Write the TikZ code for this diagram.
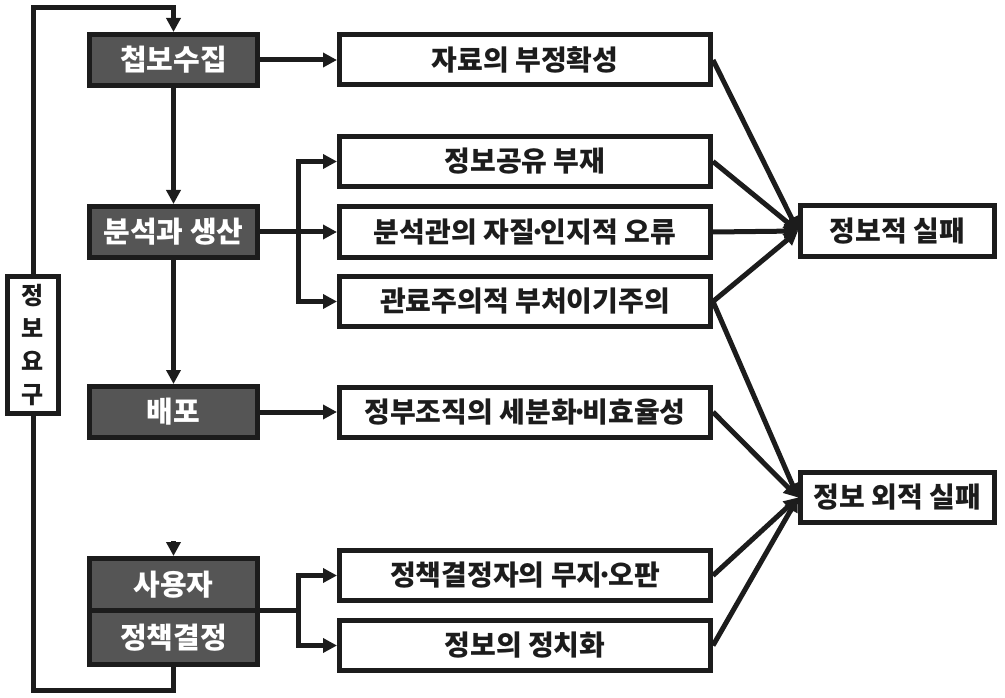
\documentclass[tikz,border=0pt]{standalone}
\usepackage{fontspec}
\newfontfamily\kor{Noto Sans CJK KR}
\usetikzlibrary{arrows.meta}
\definecolor{stagegray}{RGB}{85,85,85}
\definecolor{ink}{RGB}{28,28,28}
\newcommand{\mdot}{\kern-.2em·\kern-.2em}
\tikzstyle{stage}=[rectangle, draw=ink, fill=stagegray, line width=5pt, minimum width=168pt, minimum height=51pt, text=white, font=\kor\bfseries\fontsize{29}{32}\selectfont]
\tikzstyle{cause}=[rectangle, draw=ink, fill=white, line width=5pt, minimum width=371pt, minimum height=50pt, text=ink, font=\kor\bfseries\fontsize{28}{31}\selectfont]
\tikzstyle{failure}=[rectangle, draw=ink, fill=white, line width=5pt, minimum width=194pt, minimum height=50pt, text=ink, font=\kor\bfseries\fontsize{28}{31}\selectfont]
\tikzstyle{need}=[rectangle, draw=ink, fill=white, line width=5pt, minimum width=51pt, minimum height=137pt, inner sep=0pt, align=center, text=ink, font=\kor\bfseries\fontsize{24}{33}\selectfont]
\tikzstyle{line}=[draw=ink, line width=5pt]
\tikzstyle{arrow}=[draw=ink, line width=5pt, -{Triangle[length=14pt,width=14pt]}]

\begin{document}
\begin{tikzpicture}[x=1pt, y=-1pt]
		   \useasboundingbox (0, 0) rectangle (1005, 698);
		   \begin{scope}
			   \node (collect) at (173.5, 60) [stage] {첩보수집};
			   \node (analysis) at (173.5, 232) [stage] {분석과 생산};
			   \node (dissem) at (173.5, 412) [stage] {배포};
			   \node (user) at (173.5, 584.25) [stage, minimum height=51.5pt] {사용자};
			   \node (policy) at (173.5, 637.25) [stage, minimum height=54.5pt] {정책결정};

			   \node (req) at (33, 345) [need] {정\\보\\요\\구};

			   \node (m1) at (525, 60) [cause] {자료의 부정확성};
			   \node (m2) at (525, 161.5) [cause] {정보공유 부재};
			   \node (m3) at (525, 232) [cause] {분석관의 자질\mdot 인지적 오류};
			   \node (m4) at (525, 301.5) [cause] {관료주의적 부처이기주의};
			   \node (m5) at (525, 412) [cause] {정부조직의 세분화\mdot 비효율성};
			   \node (m6) at (525, 575.5) [cause] {정책결정자의 무지\mdot 오판};
			   \node (m7) at (525, 645.5) [cause] {정보의 정치화};

			   \node (f1) at (897.5, 231) [failure] {정보적 실패};
			   \node (f2) at (897.5, 497.5) [failure] {정보 외적 실패};

			   \coordinate (split1) at (298, 232);
			   \coordinate (split2) at (298, 610);
			   \coordinate (stub) at (173.5, 541);
			   \coordinate (looptop) at (33, 8);
			   \coordinate (loopbot) at (33, 690);
		   \end{scope}
		   \begin{scope}
			   \draw [arrow] (collect) -- (m1);
			   \draw [arrow] (collect) -- (analysis);
			   \draw [arrow] (analysis) -- (dissem);
			   \draw [arrow] (analysis) -- (m3);
			   \draw [arrow] (split1) |- (m2.west);
			   \draw [arrow] (split1) |- (m4.west);
			   \draw [arrow] (dissem) -- (m5);
			   \draw [arrow] (stub) -- (user);

			   \draw [line] (split2 -| user.east) -- (split2);
			   \draw [arrow] (split2) |- (m6.west);
			   \draw [arrow] (split2) |- (m7.west);

			   \draw [line] (policy.south) |- (loopbot) -- (req.south);
			   \draw [arrow] (req.north) -- (looptop) -| (collect.north);

			   \draw [arrow] (m1.east) -- (f1.west);
			   \draw [arrow] (m2.east) -- (f1.west);
			   \draw [arrow] (m3.east) -- (f1.west);
			   \draw [arrow] (m4.east) -- (f1.west);

			   \draw [arrow] (m4.east) -- (f2.west);
			   \draw [arrow] (m5.east) -- (f2.west);
			   \draw [arrow] (m6.east) -- (f2.west);
			   \draw [arrow] (m7.east) -- (f2.west);
		   \end{scope}
\end{tikzpicture}
\end{document}
